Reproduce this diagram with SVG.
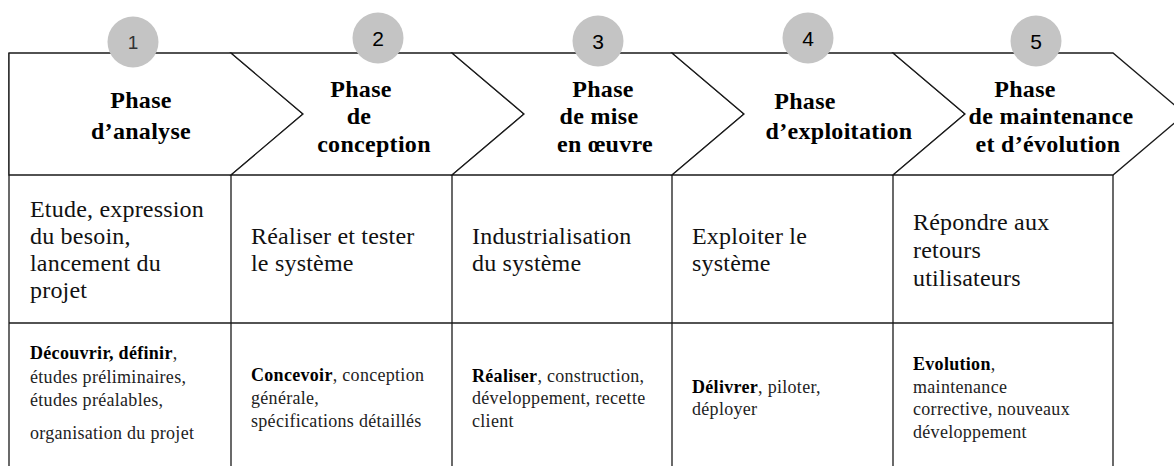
<svg xmlns="http://www.w3.org/2000/svg" width="1174" height="466" viewBox="0 0 1174 466">
<style>
.chev{fill:#fff;stroke:#1a1a1a;stroke-width:1.3;stroke-linejoin:miter}
.ln{stroke:#1a1a1a;stroke-width:1.3;fill:none}
.dot{fill:#c4c4c4}
.num{font-family:'Liberation Sans',Arial,sans-serif;font-size:21px;fill:#000;text-anchor:middle}
.hd{font-family:'Liberation Serif','Times New Roman',serif;font-size:24px;font-weight:bold;fill:#000;text-anchor:middle;letter-spacing:0.3px}
.mid{font-family:'Liberation Serif','Times New Roman',serif;font-size:24px;fill:#111;letter-spacing:0.2px}
.low{font-family:'Liberation Serif','Times New Roman',serif;font-size:18px;fill:#222;letter-spacing:0.3px}
.b{font-weight:bold;fill:#000}
</style>
<rect width="1174" height="466" fill="#fff"/>
<g id="connectors"></g>
<g id="grid">
<line class="ln" x1="9" y1="53" x2="9" y2="466"/>
<line class="ln" x1="231" y1="175" x2="231" y2="466"/>
<line class="ln" x1="452" y1="175" x2="452" y2="466"/>
<line class="ln" x1="672" y1="175" x2="672" y2="466"/>
<line class="ln" x1="893" y1="175" x2="893" y2="466"/>
<line class="ln" x1="1113" y1="175" x2="1113" y2="466"/>
<line class="ln" x1="9" y1="323" x2="1113" y2="323"/>
</g>
<g id="phase1">
<polygon class="chev" points="9,53 231,53 303,114 231,175 9,175"/>
<circle class="dot" cx="133" cy="42" r="25.5"/>
<text class="num" x="133" y="49" style="fill:#333;font-size:19px">1</text>
<text class="hd" x="141" y="108">Phase</text>
<text class="hd" x="141" y="139">d’analyse</text>
<text class="mid" x="30" y="217">Etude, expression</text>
<text class="mid" x="30" y="244">du besoin,</text>
<text class="mid" x="30" y="271">lancement du</text>
<text class="mid" x="30" y="298">projet</text>
<text class="low" x="30" y="359"><tspan class="b">Découvrir, définir</tspan>,</text>
<text class="low" x="30" y="383">études préliminaires,</text>
<text class="low" x="30" y="406">études préalables,</text>
<text class="low" x="30" y="439">organisation du projet</text>
</g>
<g id="phase2">
<polygon class="chev" points="231,53 452,53 524,114 452,175 231,175 303,114"/>
<circle class="dot" cx="378" cy="38" r="25.5"/>
<text class="num" x="378" y="46">2</text>
<text class="hd" x="361" y="97">Phase</text>
<text class="hd" x="359" y="124">de</text>
<text class="hd" x="374" y="152">conception</text>
<text class="mid" x="251" y="244">Réaliser et tester</text>
<text class="mid" x="251" y="271">le système</text>
<text class="low" x="251" y="381"><tspan class="b">Concevoir</tspan>, conception</text>
<text class="low" x="251" y="404">générale,</text>
<text class="low" x="251" y="427">spécifications détaillés</text>
</g>
<g id="phase3">
<polygon class="chev" points="452,53 672,53 744,114 672,175 452,175 524,114"/>
<circle class="dot" cx="598" cy="41" r="25.5"/>
<text class="num" x="598" y="49">3</text>
<text class="hd" x="603" y="97">Phase</text>
<text class="hd" x="599" y="124">de mise</text>
<text class="hd" x="605" y="152">en œuvre</text>
<text class="mid" x="472" y="244">Industrialisation</text>
<text class="mid" x="472" y="271">du système</text>
<text class="low" x="472" y="382"><tspan class="b">Réaliser</tspan>, construction,</text>
<text class="low" x="472" y="404">développement, recette</text>
<text class="low" x="472" y="427">client</text>
</g>
<g id="phase4">
<polygon class="chev" points="672,53 893,53 965,114 893,175 672,175 744,114"/>
<circle class="dot" cx="808" cy="38" r="25.5"/>
<text class="num" x="808" y="46">4</text>
<text class="hd" x="805" y="109">Phase</text>
<text class="hd" x="839" y="139">d’exploitation</text>
<text class="mid" x="692" y="244">Exploiter le</text>
<text class="mid" x="692" y="271">système</text>
<text class="low" x="692" y="393"><tspan class="b">Délivrer</tspan>, piloter,</text>
<text class="low" x="692" y="415">déployer</text>
</g>
<g id="phase5">
<polygon class="chev" points="893,53 1113,53 1185,114 1113,175 893,175 965,114"/>
<circle class="dot" cx="1036" cy="41" r="25.5"/>
<text class="num" x="1036" y="49">5</text>
<text class="hd" x="1025" y="97">Phase</text>
<text class="hd" x="1051" y="124">de maintenance</text>
<text class="hd" x="1048" y="152">et d’évolution</text>
<text class="mid" x="913" y="230">Répondre aux</text>
<text class="mid" x="913" y="258">retours</text>
<text class="mid" x="913" y="286">utilisateurs</text>
<text class="low" x="913" y="370"><tspan class="b">Evolution</tspan>,</text>
<text class="low" x="913" y="393">maintenance</text>
<text class="low" x="913" y="415">corrective, nouveaux</text>
<text class="low" x="913" y="438">développement</text>
</g>
</svg>
